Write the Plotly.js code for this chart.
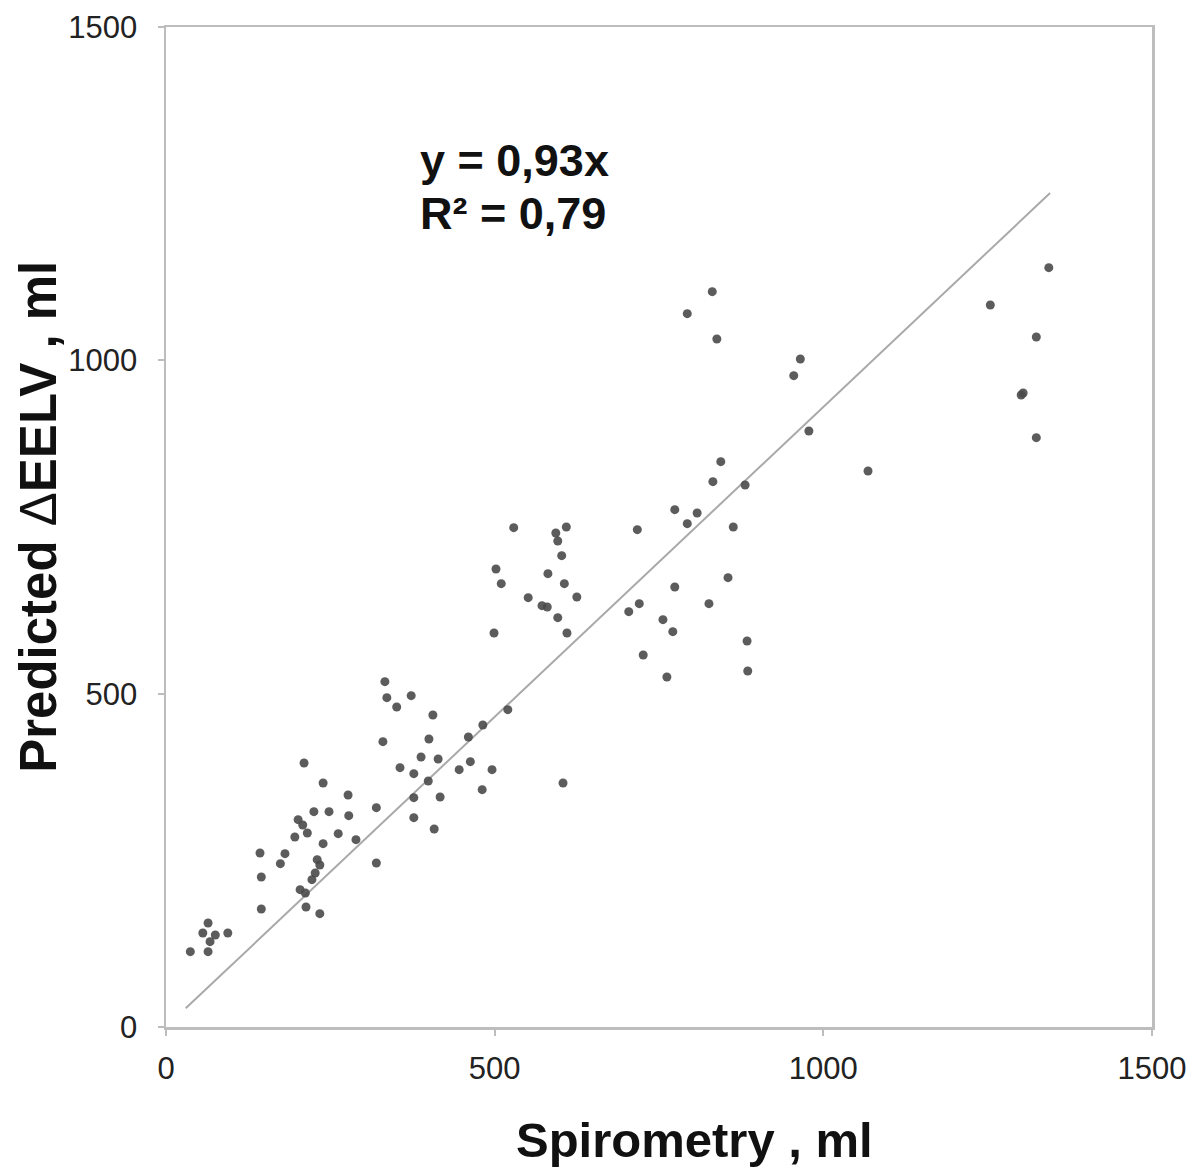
<!DOCTYPE html>
<html>
<head>
<meta charset="utf-8">
<script src="https://cdn.plot.ly/plotly-3.0.1.min.js"></script>
<style>html,body{margin:0;padding:0;background:#fff;}#chart{width:1200px;height:1173px;}</style>
</head>
<body>
<div id="chart"></div>
<script>
// Spirometry (ml) vs predicted ΔEELV (ml)
const spirometry = [
  37, 64, 64, 56, 75, 94, 67,
  333, 336, 373, 351, 406, 330, 400, 210, 388, 414, 520, 482, 460, 463, 446, 496, 356, 377, 399, 481,
  239, 277, 320, 377, 417, 377, 408, 604, 225, 248, 278, 201, 208, 215, 196, 262, 239, 289, 143, 181,
  174, 230, 234, 320, 145, 227, 222, 204, 212, 145, 213, 234,
  832, 881, 529, 609, 593, 596, 717, 774, 808, 793, 863, 602, 502, 510, 581, 606, 625, 551, 572, 580,
  596, 499, 610, 774, 855, 720, 704, 826, 756, 771, 726, 762, 884, 885,
  831, 793, 838, 965, 955, 1343, 1254, 1324, 1301, 1304, 978, 1324, 1068, 844
];
const predictedEELV = [
  113, 113, 156, 141, 138, 141, 128,
  518, 494, 497, 480, 468, 428, 432, 396, 405, 402, 476, 453, 435, 398, 386, 386, 389, 380, 369, 356,
  366, 348, 329, 344, 345, 314, 297, 366, 323, 323, 317, 311, 303, 291, 285, 290, 275, 281, 261, 260,
  245, 251, 243, 246, 225, 231, 221, 206, 201, 177, 180, 170,
  818, 813, 749, 750, 741, 729, 746, 776, 771, 755, 750, 707, 687, 665, 680, 665, 645, 644, 632, 630,
  614, 591, 591, 660, 674, 635, 623, 635, 611, 593, 558, 525, 579, 534,
  1103, 1070, 1032, 1002, 977, 1139, 1083, 1035, 948, 951, 894, 884, 834, 848
];
// Regression line end points (y = 0,93x) as drawn
const trendX = [30, 1345];
const trendY = [28, 1251];
const tickVals = [0, 500, 1000, 1500];
const tickText = ['0', '500', '1000', '1500'];
const eqLine1 = 'y = 0,93x';
const eqLine2 = 'R² = 0,79';
const xTitle = 'Spirometry , ml';

const FONT = 'Liberation Sans, Arial, Helvetica, sans-serif';

const traces = [
  {
    x: trendX, y: trendY, type: 'scatter', mode: 'lines',
    line: {color: '#a9a9a9', width: 2}, hoverinfo: 'skip', showlegend: false
  },
  {
    x: spirometry, y: predictedEELV, type: 'scatter', mode: 'markers',
    marker: {color: '#4a4a4a', size: 9, opacity: 0.9, line: {width: 0}},
    showlegend: false
  }
];

const axisCommon = {
  range: [0, 1500], tickvals: tickVals, ticktext: tickText,
  showgrid: false, zeroline: false, showline: true, mirror: true,
  linecolor: '#bdbdbd', linewidth: 2.5,
  ticks: 'outside', ticklen: 6, tickwidth: 2, tickcolor: '#bdbdbd',
  tickfont: {family: FONT, size: 31, color: '#222'}, fixedrange: true
};

const layout = {
  width: 1200, height: 1173,
  margin: {l: 166, r: 48, t: 27, b: 146},
  paper_bgcolor: '#ffffff', plot_bgcolor: '#ffffff',
  xaxis: Object.assign({}, axisCommon, {ticklabelstandoff: 6}),
  yaxis: Object.assign({}, axisCommon, {ticklabelstandoff: 14}),
  showlegend: false,
  annotations: [
    {text: '<b>' + eqLine1 + '</b>', x: 384, y: 1300, xref: 'x', yref: 'y', xanchor: 'left', yanchor: 'middle',
     showarrow: false, font: {family: FONT, size: 45, color: '#111'}},
    {text: '<b>' + eqLine2 + '</b>', x: 384, y: 1221, xref: 'x', yref: 'y', xanchor: 'left', yanchor: 'middle',
     showarrow: false, font: {family: FONT, size: 45, color: '#111'}},
    {text: '<b>' + xTitle + '</b>', x: 0.5365, y: -0.113, xref: 'paper', yref: 'paper', xanchor: 'center', yanchor: 'middle',
     showarrow: false, font: {family: FONT, size: 49, color: '#111'}},
    {text: '<b>Predicted </b>Δ<b>EELV , ml</b>', x: -0.13, y: 0.51, xref: 'paper', yref: 'paper', xanchor: 'center', yanchor: 'middle',
     textangle: -90, showarrow: false, font: {family: FONT, size: 51, color: '#111'}}
  ]
};

Plotly.newPlot('chart', traces, layout, {displayModeBar: false, staticPlot: true});
</script>
</body>
</html>
